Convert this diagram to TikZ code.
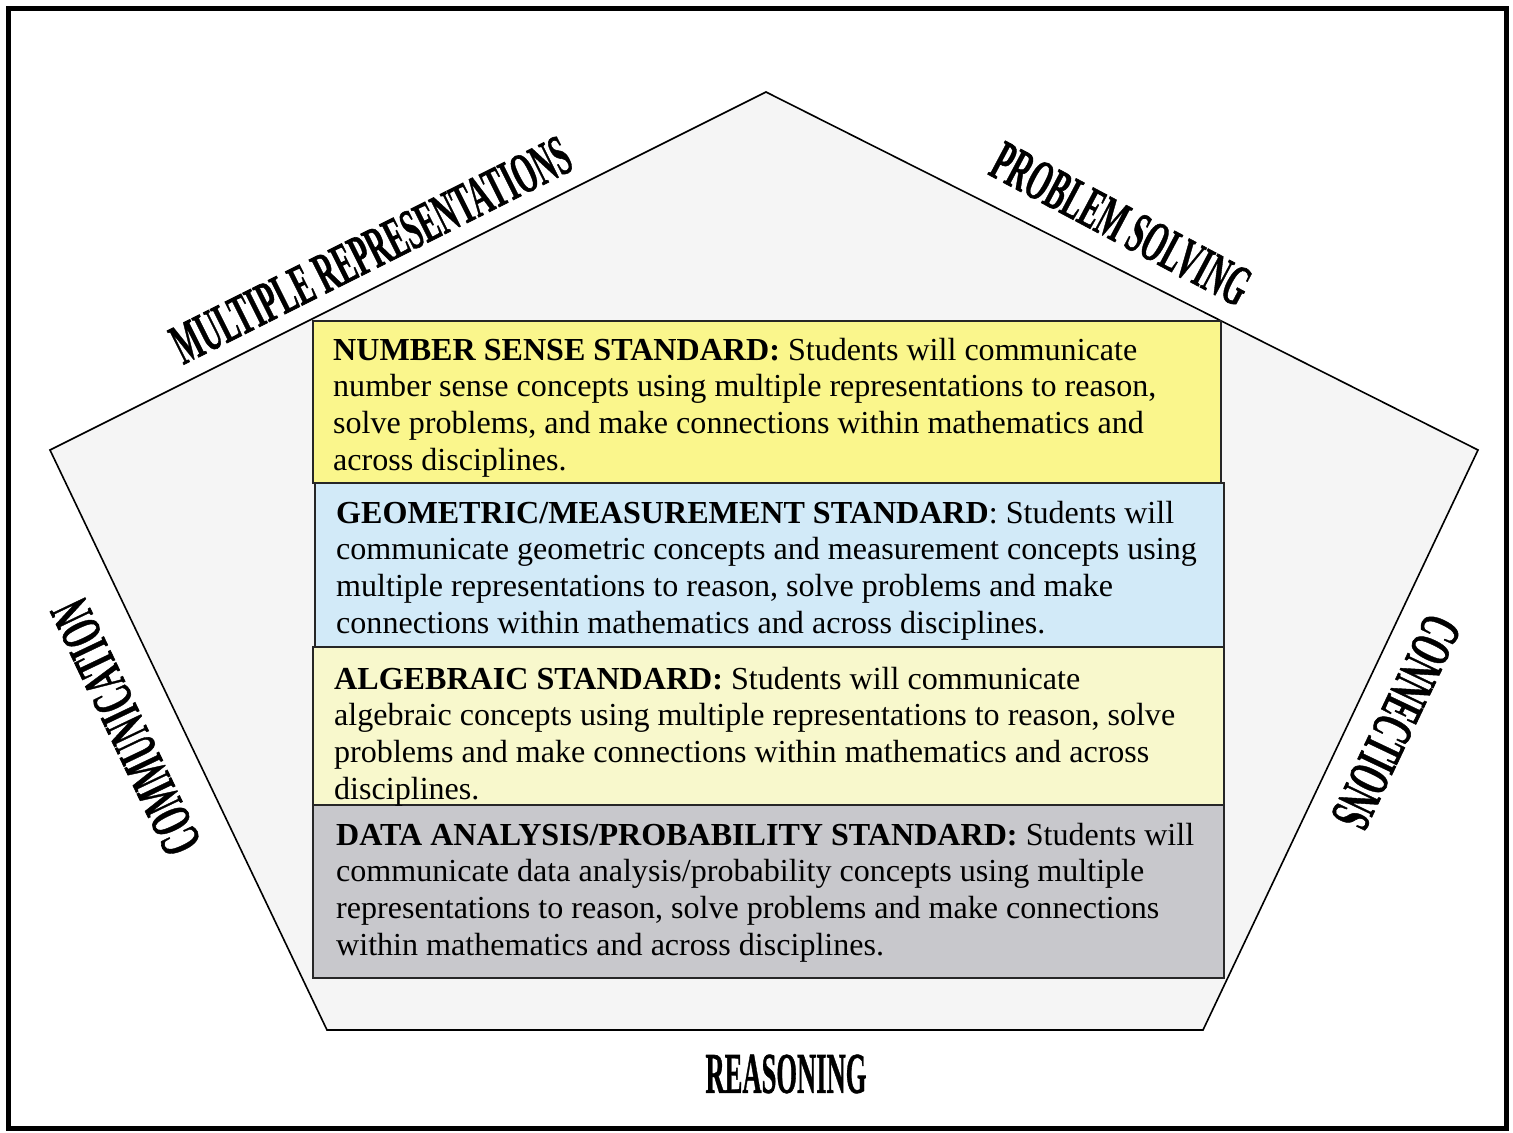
\documentclass[tikz,border=0pt]{standalone}
\usepackage{fontspec}
\setmainfont{Liberation Serif}
\newfontfamily\labelfont[FakeBold=1.1]{Liberation Serif Bold}
\usepackage{graphicx}
\definecolor{nsyellow}{RGB}{250,246,140}
\definecolor{geoblue}{RGB}{210,234,248}
\definecolor{algyellow}{RGB}{248,248,204}
\definecolor{datagray}{RGB}{200,200,204}
\definecolor{pentfill}{RGB}{245,245,245}
\begin{document}
\begin{tikzpicture}[x=1bp,y=-1bp,
  stdbox/.style={draw=black!85, line width=1.6bp},
  stdtext/.style={anchor=north west, inner sep=0pt, align=left, font=\fontsize{32.2}{37}\selectfont},
  sidelabel/.style={inner sep=0pt, font=\fontsize{58}{60}\labelfont}
]
\useasboundingbox (0,0) rectangle (1513,1132);
\draw[line width=5bp] (8,8) rectangle (1506,1128);
\coordinate (pt) at (766,92);
\coordinate (pr) at (1478,450);
\coordinate (pbr) at (1203,1030);
\coordinate (pbl) at (327,1030);
\coordinate (pl) at (50,450);
\draw[fill=pentfill, line width=1.6bp, line join=miter] (pt) -- (pr) -- (pbr) -- (pbl) -- (pl) -- cycle;

\draw[stdbox, fill=nsyellow] (313,321) rectangle (1221,483);
\draw[stdbox, fill=geoblue] (315,483) rectangle (1224,647);
\draw[stdbox, fill=algyellow] (313,647) rectangle (1224,805);
\draw[stdbox, fill=datagray] (313,805) rectangle (1224,978);

\node[stdtext] (ns) at (333,334.1) {\strut\textbf{NUMBER SENSE STANDARD:} Students will communicate\\
number sense concepts using multiple representations to reason,\\
solve problems, and make connections within mathematics and\\
across disciplines.};
\node[stdtext] (geo) at (336,497.1) {\strut\textbf{GEOMETRIC/MEASUREMENT STANDARD}: Students will\\
communicate geometric concepts and measurement concepts using\\
multiple representations to reason, solve problems and make\\
connections within mathematics and across disciplines.};
\node[stdtext] (alg) at (334,663.1) {\strut\textbf{ALGEBRAIC STANDARD:} Students will communicate\\
algebraic concepts using multiple representations to reason, solve\\
problems and make connections within mathematics and across\\
disciplines.};
\node[stdtext] (data) at (336,819.1) {\strut\textbf{DATA ANALYSIS/PROBABILITY STANDARD:} Students will\\
communicate data analysis/probability concepts using multiple\\
representations to reason, solve problems and make connections\\
within mathematics and across disciplines.};

\node[sidelabel, rotate=26.57] (mr) at (371,250) {\scalebox{0.5}[1]{MULTIPLE REPRESENTATIONS}};
\node[sidelabel, rotate=-28] (ps) at (1121,224) {\scalebox{0.5}[1]{PROBLEM SOLVING}};
\node[sidelabel, rotate=115.5] (comm) at (126,727) {\scalebox{0.52}[1]{COMMUNICATION}};
\node[sidelabel, rotate=-115.4] (conn) at (1396,722) {\scalebox{0.53}[1]{CONNECTIONS}};
\node[sidelabel] (reas) at (786,1074) {\scalebox{0.46}[1]{REASONING}};
\end{tikzpicture}
\end{document}
